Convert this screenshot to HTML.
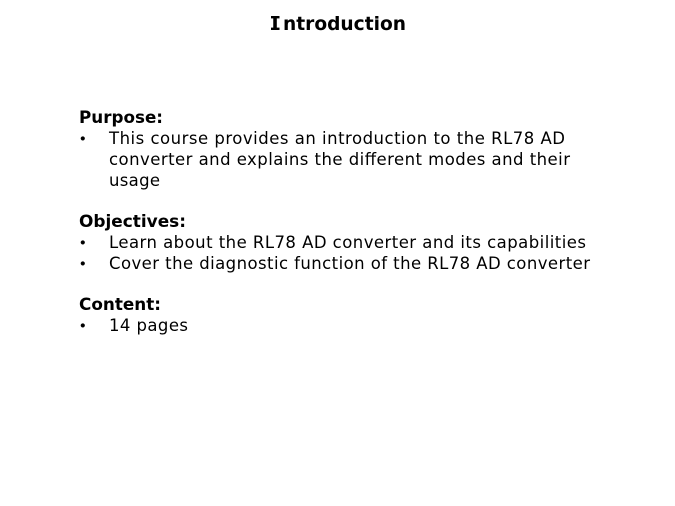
<!DOCTYPE html>
<html>
<head>
<meta charset="utf-8">
<style>
html,body{margin:0;padding:0;background:#fff;width:675px;height:506px;overflow:hidden}
svg{display:block}
text{font-family:"DejaVu Sans","Liberation Sans",sans-serif;fill:#000;font-size:16.5px}
.b{font-weight:bold}
.d{font-size:14.5px}
</style>
</head>
<body>
<svg width="675" height="506" viewBox="0 0 675 506" xmlns="http://www.w3.org/2000/svg">
<text class="b" x="271.5" y="30" style="font-size:19px">I<tspan x="283" textLength="123" lengthAdjust="spacingAndGlyphs">ntroduction</tspan></text>
<rect x="271" y="16" width="8.5" height="2.4" fill="#000"/>
<rect x="271" y="27.6" width="8.5" height="2.4" fill="#000"/>
<text class="b" x="79" y="123" textLength="84" lengthAdjust="spacingAndGlyphs">Purpose:</text>
<text class="d" x="78.5" y="143.5">•</text>
<text x="109" y="144" textLength="456">This course provides an introduction to the RL78 AD</text>
<text x="109" y="165" textLength="461">converter and explains the different modes and their</text>
<text x="109" y="186" textLength="51">usage</text>
<text class="b" x="79" y="227" textLength="107" lengthAdjust="spacingAndGlyphs">Objectives:</text>
<text class="d" x="78.5" y="247.5">•</text>
<text x="109" y="248" textLength="477">Learn about the RL78 AD converter and its capabilities</text>
<text class="d" x="78.5" y="268.5">•</text>
<text x="109" y="269" textLength="481">Cover the diagnostic function of the RL78 AD converter</text>
<text class="b" x="79" y="310" textLength="82" lengthAdjust="spacingAndGlyphs">Content:</text>
<text class="d" x="78.5" y="330.5">•</text>
<text x="109" y="331" textLength="79">14 pages</text>
</svg>
</body>
</html>
